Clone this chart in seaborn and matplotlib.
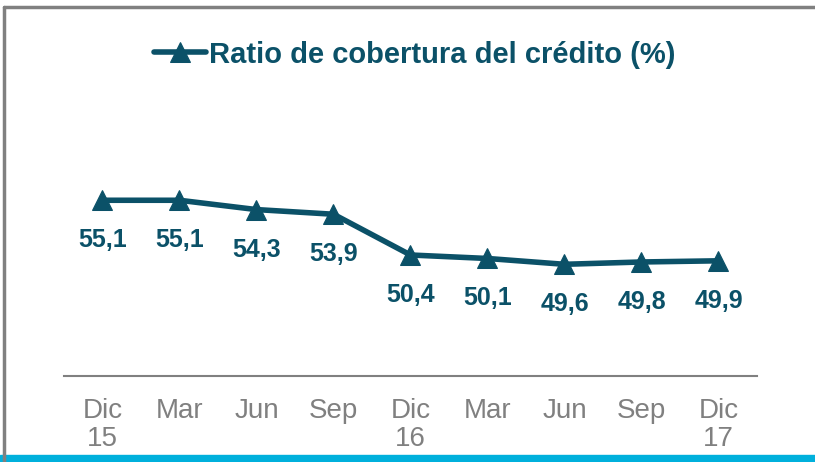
import matplotlib
matplotlib.use("Agg")
import matplotlib.pyplot as plt
import seaborn as sns
import pandas as pd

# periods and credit coverage ratio (%)
periods = ["Dic\n15", "Mar", "Jun", "Sep", "Dic\n16", "Mar", "Jun", "Sep", "Dic\n17"]
ratio = [55.1, 55.1, 54.3, 53.9, 50.4, 50.1, 49.6, 49.8, 49.9]
series_name = "Ratio de cobertura del crédito (%)"

teal = "#0B5168"
gray = "#808080"

sns.set_theme(style="white")
plt.rcParams["font.family"] = ["Liberation Sans", "DejaVu Sans"]

df = pd.DataFrame({"pos": range(len(ratio)), "ratio": ratio})

fig = plt.figure(figsize=(8.15, 4.62), dpi=100)
ax = fig.add_axes([0.0785, 0.186, 0.8503, 0.504])

sns.lineplot(data=df, x="pos", y="ratio", ax=ax, color=teal, linewidth=4,
             marker="^", markersize=15, markeredgecolor=teal,
             label=series_name)

for i, v in enumerate(ratio):
    ax.annotate(f"{v:.1f}".replace(".", ","), (i, v), xytext=(0, -40),
                textcoords="offset pixels", ha="center", va="center",
                fontsize=18, fontweight="bold", color=teal)

ax.set_xlim(-0.5, len(ratio) - 0.5)
ax.set_ylim(40, 60)
ax.set_xticks(range(len(ratio)))
ax.set_xticklabels(periods, color=gray, fontsize=20, linespacing=1.08)
ax.set_xticks([i - 0.5 for i in range(len(ratio) + 1)], minor=True)
ax.tick_params(axis="x", which="major", length=0, pad=16)
ax.tick_params(axis="x", which="minor", length=6, width=1.2, color=gray, direction="out")
ax.set_yticks([])
ax.set_xlabel("")
ax.set_ylabel("")
for s in ["top", "right", "left"]:
    ax.spines[s].set_visible(False)
ax.spines["bottom"].set_color(gray)
ax.spines["bottom"].set_linewidth(1.5)

leg = ax.legend(loc="center", frameon=False, handlelength=1.8, handletextpad=0.1,
                prop={"weight": "bold", "size": 21}, labelcolor=teal)
leg.set_bbox_to_anchor((0.509, 0.882), transform=fig.transFigure)

# frame lines and cyan bottom band
fig.add_artist(plt.Line2D([0.0045, 1.0], [0.984, 0.984], color=gray, linewidth=2.5))
fig.add_artist(plt.Line2D([0.0045, 0.0045], [0.984, 0.0], color=gray, linewidth=2.5))
fig.add_artist(plt.Rectangle((0, 0), 1, 0.015, color="#00B0DC", transform=fig.transFigure))

fig.savefig("out.png", dpi=100)
